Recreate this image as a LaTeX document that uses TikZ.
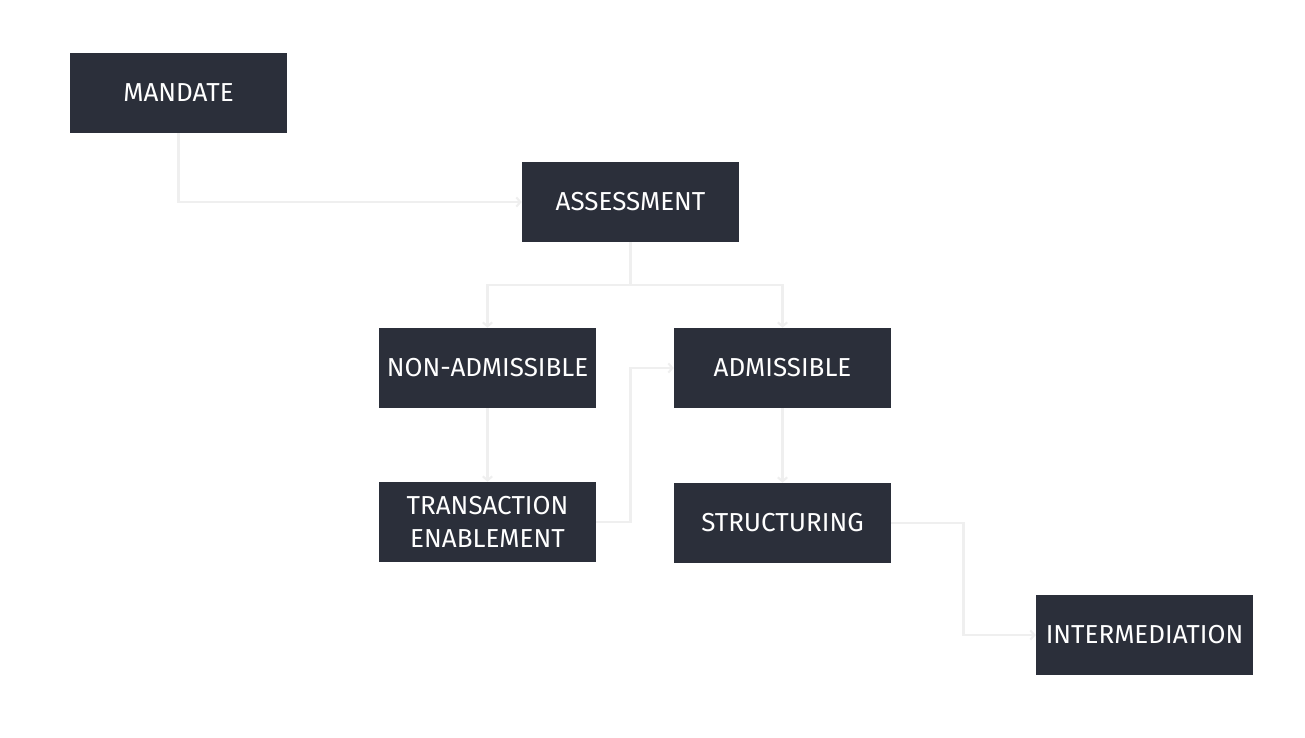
\documentclass[tikz,border=0pt]{standalone}
\usepackage{fontspec}
\setmainfont{Fira Sans}
\usetikzlibrary{arrows.meta}
\definecolor{boxfill}{HTML}{2B2F3A}
\definecolor{linkgray}{HTML}{EFEFEF}

\begin{document}
\begin{tikzpicture}[x=0.75pt, y=-0.75pt,
        main/.style = {fill=boxfill, text=white, minimum width=162.75pt, minimum height=60pt,
            inner sep=0pt, align=center, font=\fontsize{19.5}{24.5}\selectfont},
        link/.style = {draw=linkgray, line width=2.2pt,
            -{Straight Barb[length=3pt, width=7pt, line width=1.6pt]}}]
            \useasboundingbox (0,0) rectangle (1305,738);

            \node[main] (MAN) at (178.5,93) {MANDATE};
            \node[main] (ASS) at (630.5,202) {ASSESSMENT};

            \draw[link] (MAN.south) |- (ASS.west);

            \node[main] (NON) at (487.5,368) {NON-ADMISSIBLE};
            \node[main] (ADM) at (782.5,368) {ADMISSIBLE};

            \coordinate (split) at (630.5,285);
            \draw[link] (ASS.south) -- (split) -| (NON.north);
            \draw[link] (split) -| (ADM.north);

            \node[main] (TRA) at (487.5,522) {TRANSACTION\\ENABLEMENT};
            \node[main] (STR) at (782.5,523) {STRUCTURING};

            \draw[link] (NON.south) -- (TRA.north);
            \draw[link] (TRA.east) -- ++(34,0) |- (ADM.west);
            \draw[link] (ADM.south) -- (STR.north);

            \node[main] (INT) at (1144.5,635) {INTERMEDIATION};

            \draw[link] (STR.east) -- ++(72,0) |- (INT.west);
        \end{tikzpicture}
\end{document}
